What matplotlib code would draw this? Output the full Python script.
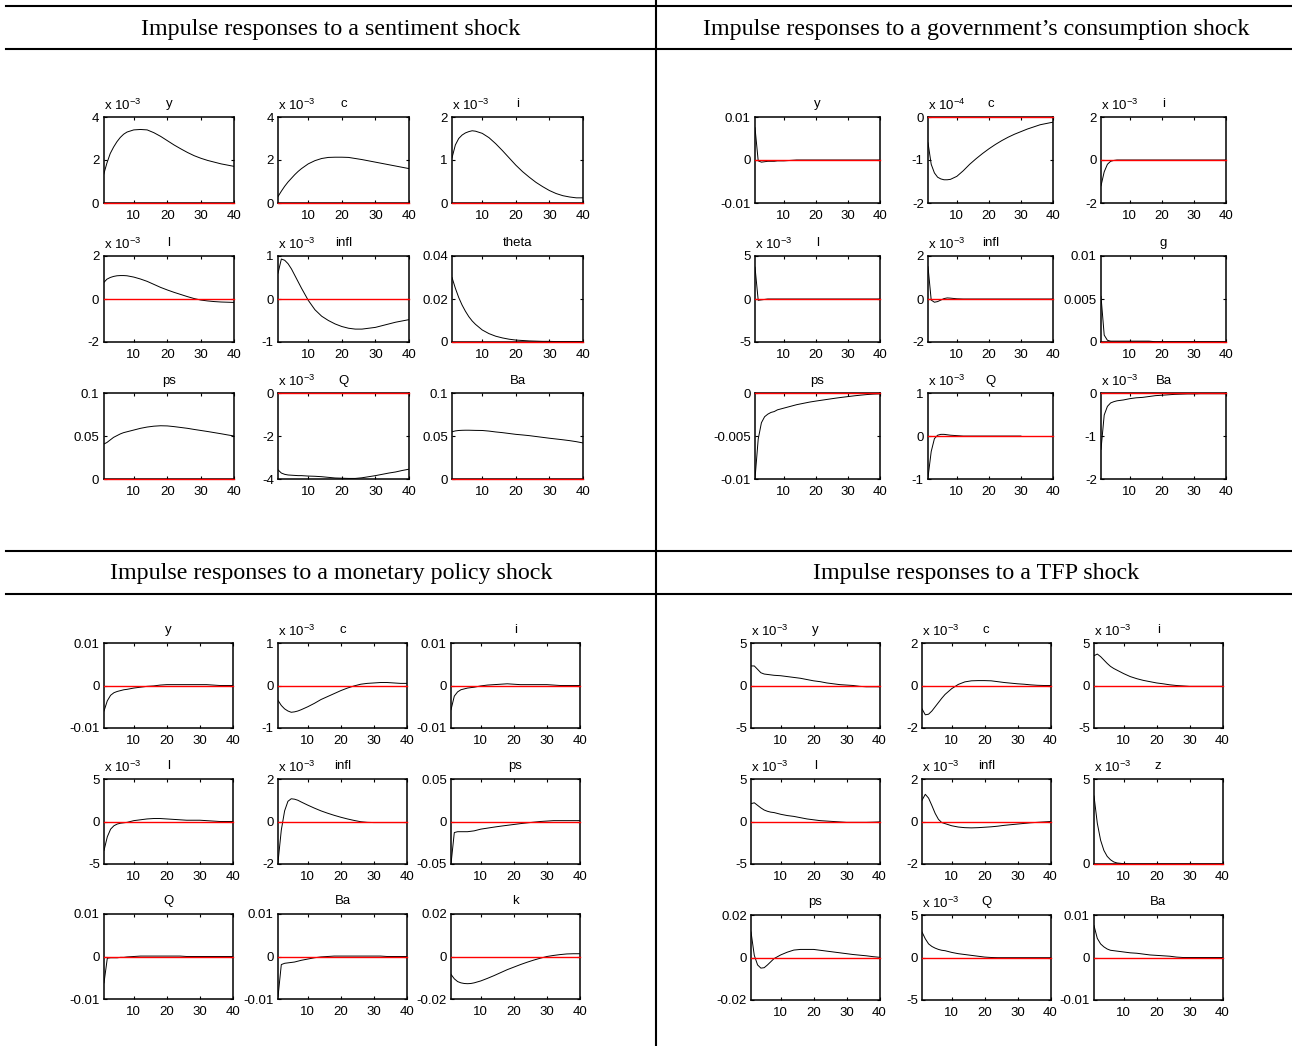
import numpy as np
import matplotlib
matplotlib.use('Agg')
import matplotlib.pyplot as plt
from matplotlib.lines import Line2D

nan = np.nan

# horizons at which the responses are plotted
periods = [1, 2, 3, 4, 5, 6, 7, 8, 10, 12, 14, 16,
           18, 20, 22, 24, 26, 28, 30, 32, 34, 36, 38, 40]

# ---- sentiment shock ----
sent_title = 'Impulse responses to a sentiment shock'
sent_names = ['y', 'c', 'i', 'l', 'infl', 'theta', 'ps', 'Q', 'Ba']
sent_exp = [-3, -3, -3, -3, -3, 0, 0, -3, 0]
sent_ylim = [(0, 4), (0, 4), (0, 2), (-2, 2), (-1, 1), (0, 0.04), (0, 0.1), (-4, 0), (0, 0.1)]
sent_y = [1.3, 1.85, 2.3, 2.6, 2.85, 3.05, 3.2, 3.3, 3.4, 3.42, 3.4, 3.27,
          3.1, 2.9, 2.7, 2.52, 2.35, 2.2, 2.08, 1.98, 1.9, 1.82, 1.76, 1.7]
sent_c = [0.3, 0.55, 0.78, 0.98, 1.15, 1.32, 1.47, 1.6, 1.82, 1.97, 2.07, 2.12,
          2.13, 2.13, 2.12, 2.07, 2.02, 1.96, 1.9, 1.84, 1.78, 1.72, 1.66, 1.6]
sent_i = [1.05, 1.35, 1.5, 1.58, 1.63, 1.66, 1.68, 1.67, 1.62, 1.52, 1.38, 1.22,
          1.05, 0.88, 0.73, 0.6, 0.48, 0.38, 0.29, 0.22, 0.17, 0.14, 0.12, 0.12]
sent_l = [0.75, 0.92, 1.0, 1.05, 1.08, 1.09, 1.09, 1.08, 1.02, 0.93, 0.82, 0.68,
          0.54, 0.42, 0.31, 0.21, 0.11, 0.02, -0.05, -0.09, -0.12, -0.14, -0.15, -0.16]
sent_infl = [0.6, 0.93, 0.9, 0.82, 0.7, 0.55, 0.4, 0.25, -0.03, -0.25, -0.4, -0.5,
             -0.58, -0.64, -0.68, -0.7, -0.7, -0.68, -0.66, -0.62, -0.58, -0.54, -0.51, -0.48]
sent_theta = [0.030, 0.025, 0.0207, 0.0172, 0.0143, 0.0118, 0.0098, 0.0082, 0.0056, 0.0039, 0.0027, 0.0019,
              0.0013, 0.0009, 0.0007, 0.0005, 0.0004, 0.0003, 0.0003, 0.0002, 0.0002, 0.0002, 0.0002, 0.0002]
sent_ps = [0.041, 0.043, 0.046, 0.049, 0.051, 0.053, 0.0545, 0.0555, 0.0575, 0.0595, 0.061, 0.062,
           0.0625, 0.0623, 0.0615, 0.0605, 0.0595, 0.0582, 0.057, 0.0558, 0.0545, 0.0532, 0.0518, 0.0505]
sent_Q = [-3.55, -3.7, -3.76, -3.79, -3.8, -3.81, -3.82, -3.82, -3.84, -3.85, -3.87, -3.9,
          -3.93, -3.94, -3.95, -3.95, -3.92, -3.87, -3.82, -3.76, -3.7, -3.65, -3.58, -3.52]
sent_Ba = [0.0555, 0.0565, 0.057, 0.0572, 0.0573, 0.0573, 0.0572, 0.0571, 0.057, 0.0563, 0.0553, 0.0545,
           0.0535, 0.0525, 0.0518, 0.051, 0.05, 0.049, 0.048, 0.0471, 0.0462, 0.0452, 0.044, 0.0425]

# ---- government consumption shock ----
gov_title = 'Impulse responses to a government\u2019s consumption shock'
gov_names = ['y', 'c', 'i', 'l', 'infl', 'g', 'ps', 'Q', 'Ba']
gov_exp = [0, -4, -3, -3, -3, 0, 0, -3, -3]
gov_ylim = [(-0.01, 0.01), (-2, 0), (-2, 2), (-5, 5), (-2, 2), (0, 0.01), (-0.01, 0), (-1, 1), (-2, 0)]
gov_y = [0.0075, -0.0002, -0.0005, -0.0004, -0.0003, -0.0003, -0.0003, -0.0002, -0.0002, -0.0001, 0.0, 0.0,
         0.0, 0.0, 0.0, 0.0, 0.0, 0.0, 0.0, 0.0, 0.0, 0.0, 0.0, 0.0]
gov_c = [-0.6, -1.1, -1.3, -1.4, -1.44, -1.46, -1.46, -1.45, -1.38, -1.25, -1.1, -0.97,
         -0.85, -0.74, -0.64, -0.55, -0.47, -0.4, -0.34, -0.28, -0.23, -0.18, -0.15, -0.12]
gov_i = [-1.2, -0.55, -0.2, -0.06, -0.02, 0.0, 0.0, 0.0, 0.0, 0.0, 0.0, 0.0,
         0.0, 0.0, 0.0, 0.0, 0.0, 0.0, 0.0, 0.0, 0.0, 0.0, 0.0, 0.0]
gov_l = [3.7, -0.15, -0.1, -0.05, 0.0, 0.0, 0.0, 0.0, 0.0, 0.0, 0.0, 0.0,
         0.0, 0.0, 0.0, 0.0, 0.0, 0.0, 0.0, 0.0, 0.0, 0.0, 0.0, 0.0]
gov_infl = [1.5, -0.05, -0.15, -0.12, -0.05, 0.02, 0.05, 0.04, 0.01, 0.0, 0.0, 0.0,
            0.0, 0.0, 0.0, 0.0, 0.0, 0.0, 0.0, 0.0, 0.0, 0.0, 0.0, 0.0]
gov_g = [0.0053, 0.0008, 0.0002, 0.0001, 0.0001, 0.0001, 0.0001, 0.0001, 0.0001, 0.0001, 0.0001, 0.0001,
         0.00003, 0.00003, 0.00003, 0.00003, 0.00003, 0.00003, 0.00003, 0.00003, 0.00003, 0.00003, 0.00003, 0.00003]
gov_ps = [-0.0099, -0.0053, -0.0034, -0.0027, -0.0024, -0.0022, -0.0021, -0.0019, -0.0017, -0.0015, -0.0013, -0.00115,
          -0.001, -0.00088, -0.00077, -0.00066, -0.00055, -0.00045, -0.00036, -0.00027, -0.00019, -0.00012, -0.00007, -0.00004]
gov_Q = [-0.95, -0.35, -0.05, 0.03, 0.05, 0.05, 0.04, 0.03, 0.02, 0.01, 0.01, 0.01,
         0.01, 0.01, 0.01, 0.01, 0.01, 0.01, 0.01, nan, nan, nan, nan, nan]
gov_Ba = [-1.3, -0.5, -0.3, -0.22, -0.19, -0.17, -0.16, -0.15, -0.12, -0.1, -0.09, -0.07,
          -0.05, -0.04, -0.03, -0.02, -0.015, -0.01, -0.01, -0.005, -0.005, -0.005, -0.005, -0.005]

# ---- monetary policy shock ----
mon_title = 'Impulse responses to a monetary policy shock'
mon_names = ['y', 'c', 'i', 'l', 'infl', 'ps', 'Q', 'Ba', 'k']
mon_exp = [0, -3, 0, -3, -3, 0, 0, 0, 0]
mon_ylim = [(-0.01, 0.01), (-1, 1), (-0.01, 0.01), (-5, 5), (-2, 2), (-0.05, 0.05),
            (-0.01, 0.01), (-0.01, 0.01), (-0.02, 0.02)]
mon_y = [-0.006, -0.0036, -0.0023, -0.0017, -0.0014, -0.0012, -0.001, -0.0009, -0.0006, -0.0004, -0.0002, -0.0001,
         0.0001, 0.0002, 0.0002, 0.0002, 0.0002, 0.0002, 0.0002, 0.0002, 0.0001, 0.0, 0.0, 0.0]
mon_c = [-0.35, -0.47, -0.55, -0.6, -0.63, -0.62, -0.6, -0.57, -0.5, -0.42, -0.33, -0.26,
         -0.19, -0.12, -0.06, -0.01, 0.03, 0.05, 0.06, 0.07, 0.07, 0.06, 0.05, 0.05]
mon_i = [-0.0057, -0.0025, -0.0015, -0.001, -0.0008, -0.0006, -0.0005, -0.0004, -0.0001, 0.0001, 0.0002, 0.0003,
         0.0004, 0.0003, 0.0002, 0.0002, 0.0002, 0.0002, 0.0002, 0.0001, 0.0, 0.0, 0.0, 0.0]
mon_l = [-3.4, -1.8, -0.9, -0.5, -0.3, -0.2, -0.15, -0.1, 0.1, 0.2, 0.3, 0.35,
         0.35, 0.3, 0.25, 0.2, 0.15, 0.15, 0.15, 0.1, 0.05, 0.0, 0.0, 0.0]
mon_infl = [-1.92, -0.4, 0.5, 0.95, 1.07, 1.05, 1.0, 0.92, 0.77, 0.63, 0.5, 0.39,
            0.29, 0.2, 0.12, 0.05, -0.01, -0.04, -0.05, -0.05, -0.05, -0.05, -0.05, -0.05]
mon_ps = [-0.05, -0.013, -0.012, -0.012, -0.012, -0.012, -0.0115, -0.011, -0.009, -0.0078, -0.0066, -0.0055,
          -0.0045, -0.0035, -0.0025, -0.0016, -0.0008, 0.0, 0.0005, 0.001, 0.001, 0.001, 0.001, 0.001]
mon_Q = [-0.0062, -0.0004, -0.0003, -0.0003, -0.0003, -0.0002, -0.0002, -0.0001, 0.0, 0.0001, 0.0001, 0.0001,
         0.0001, 0.0001, 0.0001, 0.0001, 0.0, 0.0, 0.0, 0.0, 0.0, 0.0, 0.0, 0.0]
mon_Ba = [-0.0095, -0.0019, -0.0016, -0.0015, -0.0014, -0.0013, -0.0011, -0.0009, -0.0006, -0.0003, -0.0001, 0.0,
          0.0001, 0.0001, 0.0001, 0.0001, 0.0001, 0.0001, 0.0001, 0.0001, 0.0, 0.0, 0.0, 0.0]
mon_k = [-0.0084, -0.0105, -0.0118, -0.0124, -0.0127, -0.0128, -0.0127, -0.0124, -0.0115, -0.0103, -0.009, -0.0076,
         -0.0062, -0.005, -0.0038, -0.0027, -0.0017, -0.0008, 0.0, 0.0005, 0.0009, 0.0012, 0.0013, 0.0013]

# ---- TFP shock ----
tfp_title = 'Impulse responses to a TFP shock'
tfp_names = ['y', 'c', 'i', 'l', 'infl', 'z', 'ps', 'Q', 'Ba']
tfp_exp = [-3, -3, -3, -3, -3, -3, 0, -3, 0]
tfp_ylim = [(-5, 5), (-2, 2), (-5, 5), (-5, 5), (-2, 2), (0, 5), (-0.02, 0.02), (-5, 5), (-0.01, 0.01)]
tfp_y = [2.3, 2.3, 1.9, 1.5, 1.35, 1.3, 1.25, 1.2, 1.15, 1.05, 0.95, 0.85,
         0.7, 0.55, 0.45, 0.3, 0.2, 0.1, 0.05, 0.0, -0.1, -0.15, -0.15, -0.15]
tfp_c = [-1.1, -1.38, -1.35, -1.2, -1.0, -0.8, -0.6, -0.42, -0.15, 0.05, 0.17, 0.22,
         0.23, 0.23, 0.22, 0.18, 0.14, 0.11, 0.08, 0.06, 0.03, 0.01, 0.0, 0.0]
tfp_i = [3.5, 3.7, 3.4, 3.0, 2.6, 2.25, 2.0, 1.8, 1.4, 1.05, 0.8, 0.6,
         0.45, 0.3, 0.2, 0.08, 0.0, -0.05, -0.1, -0.1, -0.1, -0.1, -0.1, -0.1]
tfp_l = [2.1, 2.2, 1.9, 1.6, 1.35, 1.2, 1.1, 1.05, 0.85, 0.7, 0.6, 0.45,
         0.3, 0.2, 0.1, 0.05, 0.0, -0.05, -0.1, -0.1, -0.1, -0.1, -0.08, -0.05]
tfp_infl = [1.0, 1.28, 1.1, 0.75, 0.38, 0.1, -0.05, -0.1, -0.2, -0.26, -0.29, -0.3,
            -0.29, -0.27, -0.25, -0.22, -0.18, -0.15, -0.12, -0.09, -0.06, -0.04, -0.02, 0.0]
tfp_z = [4.0, 2.4, 1.4, 0.8, 0.45, 0.25, 0.12, 0.06, 0.02, 0.0, 0.0, 0.0,
         0.0, 0.0, 0.0, 0.0, 0.0, 0.0, 0.0, 0.0, 0.0, 0.0, 0.0, 0.0]
tfp_ps = [0.012, 0.001, -0.0035, -0.005, -0.0048, -0.0035, -0.002, -0.0005, 0.0012, 0.0025, 0.0035, 0.0038,
          0.0038, 0.0038, 0.0034, 0.003, 0.0026, 0.0022, 0.0018, 0.0014, 0.0011, 0.0008, 0.0004, 0.0001]
tfp_Q = [3.0, 2.2, 1.6, 1.3, 1.1, 0.95, 0.85, 0.8, 0.6, 0.45, 0.35, 0.25,
         0.15, 0.05, 0.0, -0.02, -0.02, -0.02, -0.02, -0.02, -0.02, -0.02, -0.02, -0.02]
tfp_Ba = [0.0075, 0.0045, 0.0032, 0.0025, 0.002, 0.0017, 0.0016, 0.0015, 0.0013, 0.0011, 0.001, 0.0008,
          0.0006, 0.0005, 0.0004, 0.0003, 0.0001, 0.0, 0.0, 0.0, 0.0, 0.0, 0.0, 0.0]

sent_series = [sent_y, sent_c, sent_i, sent_l, sent_infl, sent_theta, sent_ps, sent_Q, sent_Ba]
gov_series = [gov_y, gov_c, gov_i, gov_l, gov_infl, gov_g, gov_ps, gov_Q, gov_Ba]
mon_series = [mon_y, mon_c, mon_i, mon_l, mon_infl, mon_ps, mon_Q, mon_Ba, mon_k]
tfp_series = [tfp_y, tfp_c, tfp_i, tfp_l, tfp_infl, tfp_z, tfp_ps, tfp_Q, tfp_Ba]

plt.rcParams['font.family'] = ['Liberation Sans', 'DejaVu Sans']
plt.rcParams['axes.unicode_minus'] = False

W, H = 1292, 1046
fig = plt.figure(figsize=(W / 100, H / 100), dpi=100)
FS = 9.5


def box(left, top, w, h):
    # pixel box (from top-left corner) -> figure fraction
    return [left / W, 1 - (top + h) / H, w / W, h / H]


def hline(y, x0, x1):
    fig.add_artist(Line2D([x0 / W, x1 / W], [1 - y / H, 1 - y / H],
                          transform=fig.transFigure, color='k', lw=1.5))


def vline(x, y0, y1):
    fig.add_artist(Line2D([x / W, x / W], [1 - y0 / H, 1 - y1 / H],
                          transform=fig.transFigure, color='k', lw=1.5))


def irf_grid(lefts, tops, w, h, names, exps, ylims, series):
    for k in range(9):
        r, c = divmod(k, 3)
        ax = fig.add_axes(box(lefts[c], tops[r], w, h))
        ax.plot(periods, series[k], color='k', lw=0.7, zorder=2)
        # zero line stays visible even when it lies on the frame
        ax.axhline(0, color='#ff0000', lw=1.0, zorder=3, clip_on=False)
        lo, hi = ylims[k]
        ax.set_xlim(1, 40)
        ax.set_ylim(lo, hi)
        ax.set_xticks([10, 20, 30, 40])
        # MATLAB picks only the end points when the middle would be 2.5
        if hi - lo == 5:
            ax.set_yticks([lo, hi])
        else:
            ax.set_yticks([lo, (lo + hi) / 2, hi])
        ax.yaxis.set_major_formatter(lambda v, p: '%g' % round(v, 6))
        ax.tick_params(direction='in', top=True, right=True, length=2.5,
                       width=0.8, labelsize=FS, pad=3, colors='k')
        ax.tick_params(axis='x', pad=5)
        for s in ax.spines.values():
            s.set_linewidth(1.1)
        ax.set_title(names[k], fontsize=FS, pad=7)
        if exps[k]:
            ax.text(0, 1.05, r'x 10$^{\mathregular{%d}}$' % exps[k], transform=ax.transAxes,
                    ha='left', va='bottom', fontsize=FS)


# table frame
hline(6, 6, W)
hline(49, 6, W)
hline(551, 6, W)
hline(594, 6, W)
vline(655.5, 0, H)

title_font = dict(family=['Liberation Serif', 'DejaVu Serif'], fontsize=17.3, ha='center', va='center')
fig.text(331 / W, 1 - 30 / H, sent_title, **title_font)
fig.text(976 / W, 1 - 30 / H, gov_title, **title_font)
fig.text(331 / W, 1 - 574 / H, mon_title, **title_font)
fig.text(976 / W, 1 - 574 / H, tfp_title, **title_font)

irf_grid([103.5, 278, 452], [117, 256, 393.5], 131, 86,
         sent_names, sent_exp, sent_ylim, sent_series)
irf_grid([755, 928, 1101], [117, 256, 393.5], 125, 86,
         gov_names, gov_exp, gov_ylim, gov_series)
irf_grid([104, 278, 451], [643, 779, 914], 129, 85,
         mon_names, mon_exp, mon_ylim, mon_series)
irf_grid([751, 922, 1094], [643, 779, 915], 128.5, 85,
         tfp_names, tfp_exp, tfp_ylim, tfp_series)

fig.savefig('out.png', dpi=100, facecolor='white')
